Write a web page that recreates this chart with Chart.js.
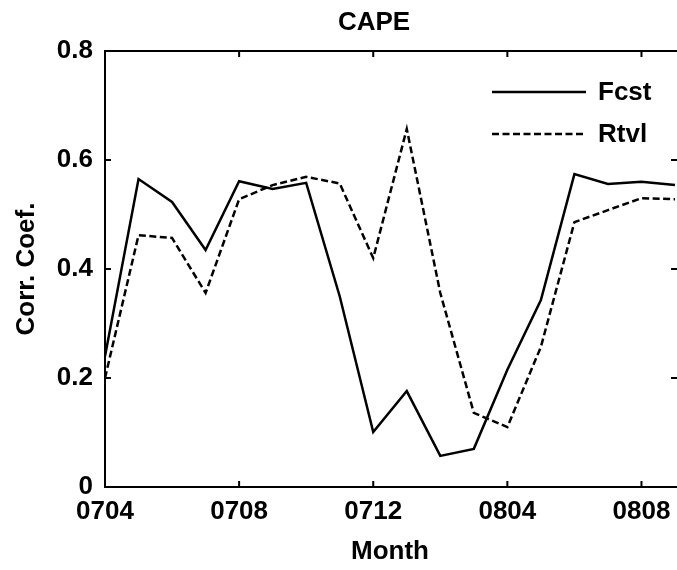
<!DOCTYPE html>
<html lang="en">
<head>
    <meta charset="UTF-8">
    <title>CAPE - Corr. Coef.</title>
    <script src="https://cdn.jsdelivr.net/npm/chart.js"></script>
    <style>
        body { margin: 0; background: #fff; overflow: hidden; }
    </style>
</head>
<body>
    <canvas id="capeChart" width="677" height="570"></canvas>

    <script>
        // data
        const months = ['0704', '0705', '0706', '0707', '0708', '0709', '0710', '0711', '0712',
                        '0801', '0802', '0803', '0804', '0805', '0806', '0807', '0808', '0809'];
        const tickLabels = ['0704', '0708', '0712', '0804', '0808'];
        const fcst = [0.24, 0.565, 0.523, 0.435, 0.561, 0.547, 0.558, 0.35, 0.101,
                      0.176, 0.057, 0.07, 0.215, 0.343, 0.574, 0.556, 0.56, 0.554];
        const rtvl = [0.2, 0.462, 0.457, 0.356, 0.528, 0.554, 0.569, 0.557, 0.42,
                      0.657, 0.356, 0.136, 0.11, 0.257, 0.486, 0.508, 0.53, 0.528];
        const titleText = 'CAPE';

        const FONT = 'Liberation Sans, Arial, Helvetica, sans-serif';

        // frame with inward ticks on all sides, title and legend inside the plot
        const framePlugin = {
            id: 'frame',
            afterDatasetsDraw(chart) {
                const ctx = chart.ctx;
                const a = chart.chartArea;
                const xs = chart.scales.x;
                const ys = chart.scales.y;
                ctx.save();
                ctx.strokeStyle = '#000';
                ctx.lineWidth = 2;
                ctx.setLineDash([]);
                ctx.beginPath();
                ctx.moveTo(a.right + 5, a.top);
                ctx.lineTo(a.left, a.top);
                ctx.lineTo(a.left, a.bottom);
                ctx.lineTo(a.right + 5, a.bottom);
                ctx.stroke();

                // ticks
                ctx.beginPath();
                months.forEach(function(m, i) {
                    if (tickLabels.indexOf(m) < 0) return;
                    const x = xs.getPixelForValue(i);
                    ctx.moveTo(x, a.bottom);
                    ctx.lineTo(x, a.bottom - 6);
                    ctx.moveTo(x, a.top);
                    ctx.lineTo(x, a.top + 6);
                });
                ys.ticks.forEach(function(t) {
                    const y = ys.getPixelForValue(t.value);
                    ctx.moveTo(a.left, y);
                    ctx.lineTo(a.left + 6, y);
                    ctx.moveTo(a.right + 2, y);
                    ctx.lineTo(a.right - 4, y);
                });
                ctx.stroke();

                // title
                ctx.fillStyle = '#000';
                ctx.font = 'bold 26px ' + FONT;
                ctx.textAlign = 'center';
                ctx.textBaseline = 'middle';
                ctx.fillText(titleText, 374, 23);

                // legend
                ctx.font = 'bold 26px ' + FONT;
                ctx.textAlign = 'left';
                chart.data.datasets.forEach(function(ds, i) {
                    const y = a.top + 41 + i * 42;
                    ctx.beginPath();
                    ctx.lineWidth = ds.borderWidth;
                    ctx.strokeStyle = ds.borderColor;
                    ctx.setLineDash(ds.borderDash || []);
                    ctx.moveTo(a.right - 183, y);
                    ctx.lineTo(a.right - 89, y);
                    ctx.stroke();
                    ctx.fillText(ds.label, a.right - 77, y + 1);
                });
                ctx.restore();
            }
        };

        const ctx = document.getElementById('capeChart').getContext('2d');
        const chart = new Chart(ctx, {
            type: 'line',
            data: {
                labels: months,
                datasets: [
                    {
                        label: 'Fcst',
                        data: fcst,
                        borderColor: '#000',
                        borderWidth: 2.5,
                        pointRadius: 0,
                        tension: 0,
                        fill: false
                    },
                    {
                        label: 'Rtvl',
                        data: rtvl,
                        borderColor: '#000',
                        borderWidth: 2.5,
                        borderDash: [7, 3.5],
                        pointRadius: 0,
                        tension: 0,
                        fill: false
                    }
                ]
            },
            options: {
                responsive: false,
                animation: false,
                layout: {
                    padding: { top: 51, right: 2, left: 0, bottom: 0 }
                },
                plugins: {
                    legend: { display: false },
                    title: { display: false },
                    tooltip: { enabled: false }
                },
                scales: {
                    x: {
                        type: 'category',
                        offset: false,
                        grid: { display: false, drawTicks: false },
                        border: { display: false },
                        afterFit: function(scale) {
                            scale.height = 83;
                            scale.paddingLeft = 0;
                            scale.paddingRight = 0;
                        },
                        ticks: {
                            autoSkip: false,
                            maxRotation: 0,
                            padding: 9,
                            color: '#000',
                            font: { family: FONT, size: 26, weight: 'bold' },
                            callback: function(val, idx) {
                                const m = months[idx];
                                return tickLabels.indexOf(m) >= 0 ? m : '';
                            }
                        },
                        title: {
                            display: true,
                            text: 'Month',
                            color: '#000',
                            font: { family: FONT, size: 26, weight: 'bold' },
                            padding: { top: 0, bottom: 3 }
                        }
                    },
                    y: {
                        min: 0,
                        max: 0.8,
                        grid: { display: false, drawTicks: false },
                        border: { display: false },
                        afterFit: function(scale) { scale.width = 105; },
                        ticks: {
                            stepSize: 0.2,
                            padding: 12,
                            color: '#000',
                            font: { family: FONT, size: 26, weight: 'bold' }
                        },
                        title: {
                            display: true,
                            text: 'Corr. Coef.',
                            color: '#000',
                            font: { family: FONT, size: 26, weight: 'bold' },
                            padding: { top: 11, bottom: 0 }
                        }
                    }
                }
            },
            plugins: [framePlugin]
        });
    </script>
</body>
</html>
